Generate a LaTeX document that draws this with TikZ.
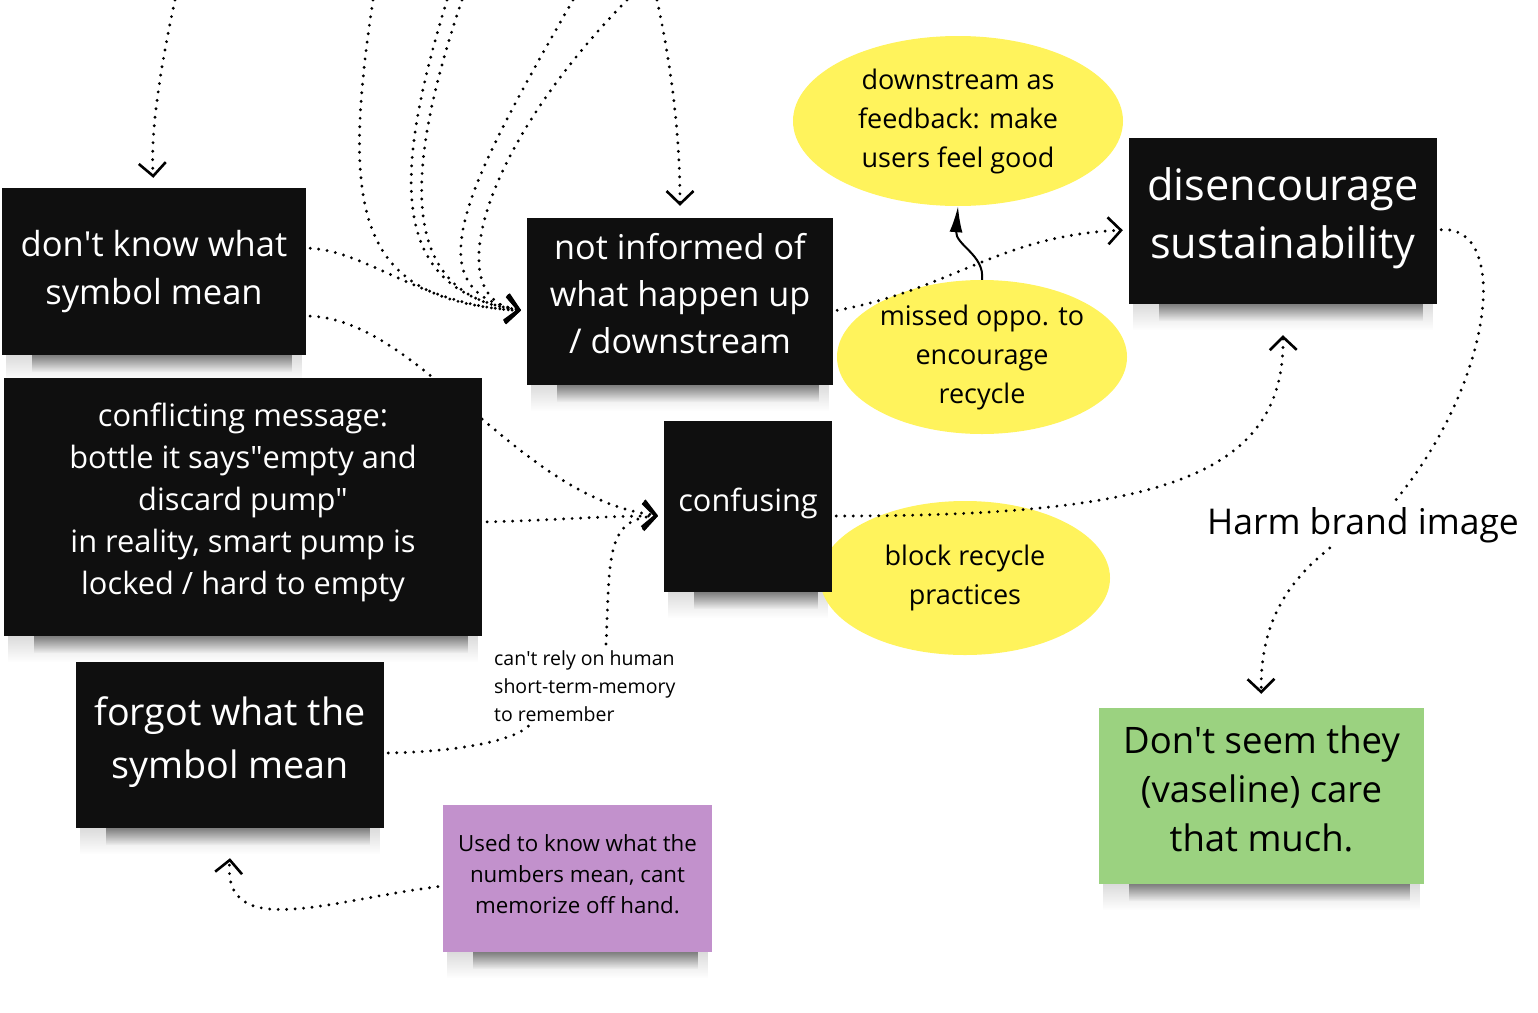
\documentclass[tikz,border=0pt]{standalone}
\usepackage{fontspec}
\setmainfont{Open Sans}
\usetikzlibrary{arrows.meta}
\usetikzlibrary{shapes.geometric}
\usetikzlibrary{fadings}
\pgfdeclarelayer{back}
\pgfdeclarelayer{lines}
\pgfsetlayers{back,lines,main}
\definecolor{myellow}{RGB}{255,243,92}
\definecolor{mgreen}{RGB}{155,210,128}
\definecolor{mpurple}{RGB}{194,145,204}
\newcommand{\padbelow}[1]{\rule[-#1]{0pt}{#1}}
\tikzfading[name=fadedown, top color=transparent!0, bottom color=transparent!100]
\tikzset{note/.style = {fill=black!94, text=white, align=center, inner sep=0}}
\tikzset{lightnote/.style = {note, text=black}}
\tikzset{softshade/.style = {fill=black, opacity=0.14, path fading=fadedown}}
\tikzset{darkshade/.style = {fill=black, opacity=0.42, path fading=fadedown}}
\tikzset{spot/.style = {ellipse, fill=myellow, align=center, inner sep=-8pt,
                        font=\fontsize{27}{39}\selectfont}}
\tikzset{dotline/.style = {line width=3.2pt, line cap=round, dash pattern=on 0pt off 8.5pt}}
\tikzset{tip/.style = {-{Straight Barb[length=13pt, width=27pt, line width=2.6pt]}}}

\begin{document}
\begin{tikzpicture}[x=1pt, y=-1pt]
      \useasboundingbox (0, 0) rectangle (1538, 1012);

      \node [note, minimum width=304, minimum height=167,
             font=\fontsize{34.5}{48}\selectfont] (symbol) at (154, 271.5)
            {don\textquotesingle t know what\\symbol mean};
      \node [note, minimum width=306, minimum height=167,
             font=\fontsize{34.2}{47}\selectfont] (inform) at (680, 301.5)
            {not informed of\\what happen up\\/ downstream\padbelow{16pt}};
      \node [note, minimum width=478, minimum height=258,
             font=\fontsize{30.8}{42}\selectfont] (conflict) at (243, 507)
            {conflicting message:\\bottle it says\textquotedbl empty and\\discard pump\textquotedbl\\in reality, smart pump is\\locked / hard to empty\padbelow{16pt}};
      \node [note, minimum width=308, minimum height=166,
             font=\fontsize{37.7}{53}\selectfont] (forgot) at (230, 745)
            {forgot what the\\symbol mean\padbelow{15pt}};
      \node [note, minimum width=168, minimum height=171,
             font=\fontsize{30.7}{40}\selectfont] (confuse) at (748, 506.5)
            {confusing\padbelow{13.5pt}};
      \node [note, minimum width=308, minimum height=166,
             font=\fontsize{43.3}{58}\selectfont] (sustain) at (1283, 221)
            {disencourage\\sustainability\padbelow{15pt}};
      \node [lightnote, fill=mgreen, minimum width=325, minimum height=176,
             font=\fontsize{36.5}{49}\selectfont] (vaseline) at (1261.5, 796)
            {Don\textquotesingle t seem they\\(vaseline) care\\that much.\padbelow{14pt}};
      \node [lightnote, fill=mpurple, minimum width=269, minimum height=147,
             font=\fontsize{22.3}{31}\selectfont] (numbers) at (577.5, 878.5)
            {Used to know what the\\numbers mean, cant\\memorize off hand.\padbelow{8pt}};
      \node [font=\fontsize{35.5}{42}\selectfont, inner sep=0] (harm) at (1363, 525)
            {Harm brand image};
      \node [font=\fontsize{19.5}{28}\selectfont, align=left, anchor=north west,
             inner sep=0] (memo) at (494, 650)
            {can\textquotesingle t rely on human\\short-term-memory\\to remember};

      \begin{pgfonlayer}{back}
        \foreach \n in {symbol, inform, conflict, forgot, confuse, sustain, vaseline, numbers} {
          \fill [softshade] ([xshift=4pt]\n.south west) rectangle ([xshift=-4pt, yshift=-26pt]\n.south east);
          \fill [darkshade] ([xshift=30pt]\n.south west) rectangle ([xshift=-14pt, yshift=-17pt]\n.south east);
        }
        \node [spot, minimum width=330, minimum height=170] (downfb) at (958, 121)
              {downstream as\\feedback: make\\users feel good};
        \node [spot, minimum width=290, minimum height=154] (missed) at (982, 357)
              {missed oppo. to\\encourage\\recycle};
        \node [spot, minimum width=290, minimum height=154] (block) at (965, 578)
              {block recycle\\practices};
      \end{pgfonlayer}

      \coordinate (top1) at (175, 0);
      \coordinate (top2) at (373, 0);
      \coordinate (top3) at (447, 0);
      \coordinate (top4) at (462, 0);
      \coordinate (top5) at (573, 0);
      \coordinate (top6) at (627, 0);
      \coordinate (top7) at (657, 0);

      \begin{pgfonlayer}{lines}
        \draw [dotline, tip, shorten >=10pt] (top1) .. controls (162, 60) and (150, 130) .. (symbol.north);
        \draw [dotline, tip, shorten >=6pt] (top2) .. controls (340, 220) and (360, 300) .. ([yshift=-9.5pt]inform.west);
        \draw [dotline, tip, shorten >=6pt] (top3) .. controls (395, 170) and (385, 290) .. ([yshift=-9.5pt]inform.west);
        \draw [dotline, tip, shorten >=6pt] (top4) .. controls (408, 160) and (392, 295) .. ([yshift=-9.5pt]inform.west);
        \draw [dotline, tip, shorten >=6pt] (top5) .. controls (470, 180) and (410, 290) .. ([yshift=-9.5pt]inform.west);
        \draw [dotline, tip, shorten >=6pt] (top6) .. controls (480, 150) and (440, 300) .. ([yshift=-9.5pt]inform.west);
        \draw [dotline, tip, shorten >=6pt, shorten <=4pt] ([yshift=23.5pt]symbol.east) .. controls (370, 252) and (420, 305) .. ([yshift=-9.5pt]inform.west);
        \draw [dotline, tip, shorten >=12pt] (top7) .. controls (670, 60) and (680, 130) .. (inform.north);

        \draw [dotline, tip, shorten >=6pt, shorten <=4pt] ([yshift=-44.5pt]symbol.east) .. controls (420, 320) and (520, 500) .. ([yshift=-9.5pt]confuse.west);
        \draw [dotline, tip, shorten >=6pt, shorten <=5pt] ([yshift=-15pt]conflict.east) .. controls (560, 520) and (600, 516) .. ([yshift=-9.5pt]confuse.west);
        \draw [dotline, tip, shorten >=6pt, shorten <=6pt] ([xshift=21pt]memo.north) .. controls (610, 560) and (605, 518) .. ([yshift=-9.5pt]confuse.west);
        \draw [dotline, shorten <=4pt, shorten >=4pt] ([yshift=-8pt]forgot.east) .. controls (450, 752) and (515, 742) .. ([xshift=-52pt]memo.south);
        \draw [dotline, tip, shorten <=5pt] ([yshift=-7.5pt]numbers.west) .. controls (330, 900) and (222, 942) .. ([yshift=-30pt]forgot.south);

        \draw [dotline, tip, shorten <=4pt, shorten >=6pt] ([yshift=-9.5pt]inform.east) .. controls (950, 290) and (1000, 235) .. ([yshift=-9pt]sustain.west);
        \draw [line width=2pt, -{Latex[length=26pt, width=13pt]}] (missed.north) .. controls (985, 255) and (955, 245) .. (downfb.south);
        \draw [dotline, tip, shorten <=4pt] ([yshift=-9.5pt]confuse.east) .. controls (1150, 516) and (1285, 480) .. ([yshift=-31pt]sustain.south);
        \draw [dotline, shorten <=4pt, shorten >=6pt] ([yshift=-9pt]sustain.east) .. controls (1510, 225) and (1495, 380) .. ([xshift=27pt]harm.north);
        \draw [dotline, tip, shorten <=8pt, shorten >=14pt] ([xshift=-27pt]harm.south) .. controls (1290, 580) and (1260, 620) .. (vaseline.north);
      \end{pgfonlayer}
    \end{tikzpicture}
\end{document}
